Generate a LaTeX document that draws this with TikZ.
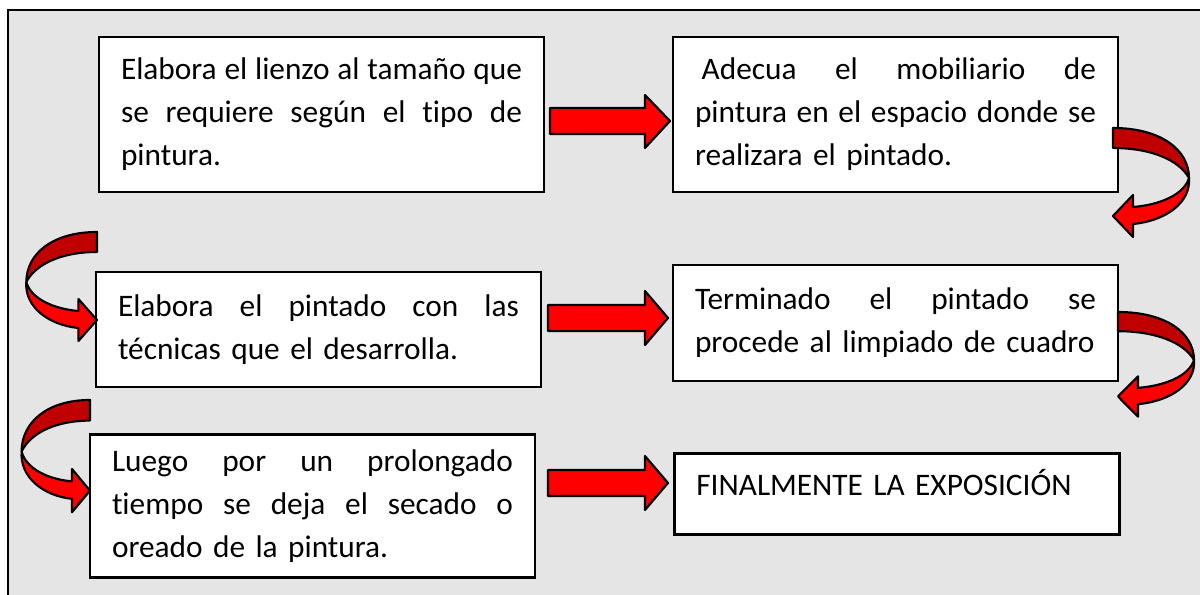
\documentclass[tikz,border=0pt]{standalone}
\usepackage{fontspec}
\setmainfont{Carlito}[Ligatures=NoCommon,RawFeature={-liga,-clig,-calt}]
\definecolor{bgray}{HTML}{E5E5E5}
\definecolor{arrred}{HTML}{FF0000}
\definecolor{dkred}{HTML}{C00000}
\newlength{\boxtw}
\setlength{\boxtw}{300.75pt}
\newcommand{\jl}[1]{\makebox[\boxtw][s]{\spaceskip=\fontdimen2\font plus 1fil minus 0.5\fontdimen2\font\relax #1}}
\begin{document}
\begin{tikzpicture}[x=0.75pt,y=-0.75pt,
  box/.style={draw=black,line width=2pt,fill=white,align=left,
    text width=300.75pt,inner xsep=16.5pt,inner ysep=0pt,
    minimum width=333.75pt,
    font=\fontsize{23.5pt}{32.25pt}\selectfont},
  arrowline/.style={draw=black,line width=1.6pt,line join=round},
  blockarrow/.style={arrowline,fill=arrred},
  curvarrow/.pic={
    \filldraw[arrowline,fill=dkred] (0,0) .. controls (48,0) and (76,22) .. (76,50)
      .. controls (66,32) and (38,20) .. (0,20) -- cycle;
    \filldraw[arrowline,fill=arrred] (76,50) .. controls (78,75) and (52,93) .. (20,96)
      -- (20,109) -- (0,88) -- (20,67) -- (20,79)
      .. controls (46,77) and (71,67) .. (76,50) -- cycle;
  }]
\clip (0,0) rectangle (1200,595);
\fill[white] (0,0) rectangle (1200,595);
\draw[line width=2.2pt,fill=bgray] (8,10) rectangle (1240,640);

\node[box,minimum height=116.25pt] (b1) at (321.5,114.5)
  {\jl{Elabora el lienzo al tamaño que}\\\jl{se requiere según el tipo de}\\pintura.};
\node[box,minimum height=116.25pt] (b2) at (895.5,114.5)
  {\jl{\hspace*{5pt}Adecua el mobiliario de}\\\jl{pintura en el espacio donde se}\\realizara el pintado.};
\node[box,minimum height=86.25pt] (b3) at (318.5,329.5)
  {\jl{Elabora el pintado con las}\\técnicas que el desarrolla.};
\node[box,minimum height=87pt] (b4) at (895.5,323)
  {\jl{Terminado el pintado se}\\procede al limpiado de cuadro};
\node[box,minimum height=107.25pt] (b5) at (312.5,506)
  {\jl{Luego por un prolongado}\\\jl{tiempo se deja el secado o}\\oreado de la pintura.};
\node[box,anchor=north west,text height=31.5pt,text depth=29.25pt] (b6) at (673,452)
  {FINALMENTE LA EXPOSICIÓN};

% straight block arrows
\filldraw[blockarrow] (550,108) -- (645,108) -- (645,95) -- (670,121) -- (645,148) -- (645,134) -- (550,134) -- cycle;
\filldraw[blockarrow] (548,305) -- (645,305) -- (645,291) -- (668,318) -- (645,345) -- (645,331) -- (548,331) -- cycle;
\filldraw[blockarrow] (548,470) -- (645,470) -- (645,456) -- (668,483) -- (645,510) -- (645,496) -- (548,496) -- cycle;

% curved arrows
\pic at (1113,128) {curvarrow};
\pic[yscale=0.96] at (1118,312) {curvarrow};
\pic[xscale=-0.93] at (97,232) {curvarrow};
\pic[xscale=-0.9,yscale=1.03] at (90,400) {curvarrow};
\end{tikzpicture}
\end{document}
